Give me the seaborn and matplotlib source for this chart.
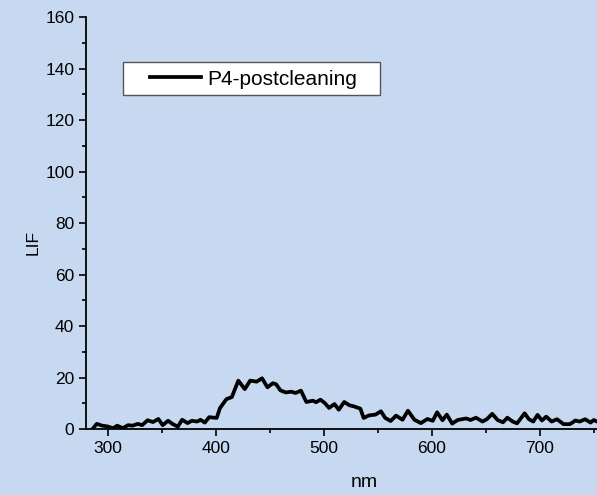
import numpy as np
import pandas as pd
import matplotlib
matplotlib.use('Agg')
import matplotlib.pyplot as plt
import seaborn as sns
from matplotlib.ticker import MultipleLocator
from matplotlib.patches import Rectangle

# espectro LIF
nm = [286, 290, 295, 300, 305, 309, 314, 319, 323, 328, 332, 337, 342, 347, 351, 356, 360, 365,
      369, 374, 378, 383, 386, 390, 394, 401, 404, 410, 415, 421, 427, 432, 438, 443, 448, 453,
      456, 460, 465, 470, 474, 479, 484, 490, 493, 497, 501, 505, 510, 514, 519, 524, 528, 534,
      537, 542, 548, 553, 557, 562, 567, 573, 578, 584, 590, 596, 601, 605, 610, 614, 619, 624,
      632, 636, 641, 647, 651, 656, 661, 666, 670, 675, 679, 686, 690, 694, 698, 702, 706, 711,
      716, 722, 728, 733, 737, 742, 747, 750, 753, 757]
lif = [0.0, 2.0, 1.3, 1.0, 0.3, 1.3, 0.3, 1.5, 1.3, 2.0, 1.5, 3.4, 2.7, 3.9, 1.5, 3.2, 2.0, 0.9,
       3.6, 2.3, 3.2, 2.9, 3.6, 2.5, 4.6, 4.3, 8.1, 11.6, 12.4, 18.8, 15.5, 18.8, 18.4, 19.7, 16.2, 17.8,
       17.4, 15.0, 14.2, 14.5, 14.0, 14.9, 10.5, 11.0, 10.4, 11.4, 10.1, 8.2, 9.7, 7.5, 10.5, 9.2, 8.8, 7.9,
       4.3, 5.3, 5.6, 6.9, 4.3, 3.1, 5.2, 3.6, 7.1, 3.6, 2.3, 3.9, 3.2, 6.5, 3.4, 5.6, 2.1, 3.5,
       4.1, 3.5, 4.4, 2.9, 3.8, 5.9, 3.5, 2.6, 4.4, 2.9, 2.2, 6.1, 3.8, 2.9, 5.5, 3.3, 4.8, 2.9,
       3.8, 1.9, 1.9, 3.3, 2.9, 3.8, 2.5, 3.5, 2.9, 3.2]

df = pd.DataFrame({'nm': nm, 'LIF': lif})

bg = '#C6D9F0'
plt.rcParams['font.family'] = ['Liberation Sans', 'DejaVu Sans']

fig = plt.figure(figsize=(5.97, 4.95), dpi=100, facecolor=bg)
ax = fig.add_axes([0.144, 0.1333, 0.856, 0.832], facecolor=bg)

sns.lineplot(data=df, x='nm', y='LIF', color='black', linewidth=2.7, ax=ax, label='P4-postcleaning')

ax.set_xlim(280, 753)
ax.set_ylim(0, 160)
ax.xaxis.set_major_locator(MultipleLocator(100))
ax.xaxis.set_minor_locator(MultipleLocator(50))
ax.yaxis.set_major_locator(MultipleLocator(20))
ax.yaxis.set_minor_locator(MultipleLocator(10))
ax.tick_params(which='major', direction='out', length=5, width=1.2, labelsize=12.5, colors='black')
ax.tick_params(which='minor', direction='out', length=3, width=1.2)
ax.spines['top'].set_visible(False)
ax.spines['right'].set_visible(False)
ax.spines['left'].set_linewidth(1.3)
ax.spines['bottom'].set_linewidth(1.3)
ax.set_xlabel('nm', fontsize=14, va='center')
ax.set_ylabel('LIF', fontsize=12.5, va='center')
# o grafico original esta cortado a direita, por isso o rotulo nao fica no meio
ax.xaxis.set_label_coords(0.544, -0.131)
ax.yaxis.set_label_coords(-0.104, 0.454)

# caixa da legenda (branca, cantos retos)
ax.add_patch(Rectangle((0.0724, 0.8107), 0.503, 0.0801, transform=ax.transAxes,
                       facecolor='white', edgecolor='#555555', linewidth=1.0, zorder=4))
leg = ax.legend(loc='center left', bbox_to_anchor=(0.1252, 0.8495), frameon=False,
                fontsize=15, handlelength=2.45, handletextpad=0.29, borderpad=0, borderaxespad=0)
leg.set_zorder(5)

fig.savefig('out.png', dpi=100, facecolor=bg)
